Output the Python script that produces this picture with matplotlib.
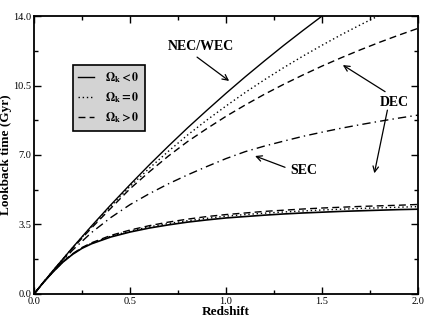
import matplotlib
matplotlib.use("Agg")
import matplotlib.pyplot as plt
from matplotlib.ticker import MultipleLocator

plt.rcParams['font.family'] = ['Liberation Serif', 'DejaVu Serif']
plt.rcParams['mathtext.fontset'] = 'stix'

# redshift grid (upper curves)
z = [0.0, 0.1, 0.2, 0.3, 0.4, 0.5, 0.6, 0.7, 0.8, 0.9, 1.0,
     1.1, 1.2, 1.3, 1.4, 1.5, 1.6, 1.7, 1.8, 1.9, 2.0]

# NEC/WEC upper bounds
nec_neg = [0.0, 1.19, 2.33, 3.43, 4.49, 5.51, 6.50, 7.45, 8.37, 9.25, 10.11,
           10.94, 11.74, 12.52, 13.27, 14.0, 14.7, 15.4, 16.1, 16.8, 17.5]
nec_zero = [0.0, 1.19, 2.32, 3.40, 4.42, 5.42, 6.33, 7.19, 8.01, 8.76, 9.47,
            10.15, 10.79, 11.40, 11.98, 12.53, 13.06, 13.56, 14.04, 14.5, 14.95]
nec_pos = [0.0, 1.18, 2.29, 3.33, 4.32, 5.30, 6.15, 6.95, 7.68, 8.33, 8.95,
           9.52, 10.06, 10.56, 11.03, 11.48, 11.90, 12.30, 12.68, 13.04, 13.38]

# SEC
sec = [0.0, 1.15, 2.20, 3.10, 3.85, 4.50, 5.05, 5.55, 6.00, 6.42, 6.82,
       7.17, 7.45, 7.70, 7.94, 8.15, 8.35, 8.53, 8.70, 8.86, 9.01]

# redshift grid (lower curves)
z_low = [0.0, 0.05, 0.1, 0.15, 0.2, 0.25, 0.3, 0.4, 0.5, 0.6, 0.7, 0.8, 0.9, 1.0,
         1.1, 1.2, 1.3, 1.4, 1.5, 1.6, 1.7, 1.8, 1.9, 2.0]

# DEC lower bounds
dec_neg = [0.0, 0.60, 1.12, 1.60, 1.99, 2.30, 2.53, 2.87, 3.12, 3.32, 3.48, 3.62, 3.73, 3.83,
           3.90, 3.97, 4.03, 4.08, 4.12, 4.16, 4.19, 4.22, 4.25, 4.27]
dec_zero = [0.0, 0.60, 1.12, 1.61, 2.00, 2.32, 2.55, 2.91, 3.17, 3.38, 3.55, 3.69, 3.81, 3.92,
            4.00, 4.07, 4.13, 4.18, 4.23, 4.27, 4.31, 4.34, 4.37, 4.40]
dec_pos = [0.0, 0.60, 1.13, 1.62, 2.02, 2.34, 2.58, 2.95, 3.22, 3.44, 3.62, 3.77, 3.90, 4.00,
           4.08, 4.16, 4.22, 4.28, 4.33, 4.37, 4.41, 4.44, 4.47, 4.51]

fig = plt.figure(figsize=(4.36, 3.27), dpi=100)
ax = fig.add_axes([0.078, 0.101, 0.881, 0.850])

lw = 1.0
ax.plot(z, nec_neg, color='black', lw=lw, ls='-', label=r'$\mathbf{\Omega_k < 0}$')
ax.plot(z, nec_zero, color='black', lw=lw, ls=(0, (1, 2)), label=r'$\mathbf{\Omega_k = 0}$')
ax.plot(z, nec_pos, color='black', lw=lw, ls=(0, (5, 3)), label=r'$\mathbf{\Omega_k > 0}$')
ax.plot(z, sec, color='black', lw=lw, ls=(0, (6, 3, 1, 3)))
ax.plot(z_low, dec_neg, color='black', lw=1.2, ls='-')
ax.plot(z_low, dec_zero, color='black', lw=lw, ls=(0, (1, 2)))
ax.plot(z_low, dec_pos, color='black', lw=lw, ls=(0, (5, 3)))

ax.set_xlim(0, 2)
ax.set_ylim(0, 14)
ax.xaxis.set_major_locator(MultipleLocator(0.5))
ax.xaxis.set_minor_locator(MultipleLocator(0.25))
ax.yaxis.set_major_locator(MultipleLocator(3.5))
ax.yaxis.set_minor_locator(MultipleLocator(1.75))
ax.xaxis.set_major_formatter(lambda v, p: f"{v:.1f}")
ax.yaxis.set_major_formatter(lambda v, p: f"{v:.1f}")
ax.tick_params(which='both', direction='in', top=True, right=True, labelsize=7.5, pad=2)
ax.tick_params(which='major', length=5, width=1)
ax.tick_params(which='minor', length=3, width=1)
for s in ax.spines.values():
    s.set_linewidth(1.3)

ax.set_xlabel('Redshift', fontsize=9.5, fontweight='bold', labelpad=0)
ax.set_ylabel('Lookback time (Gyr)', fontsize=9.5, fontweight='bold', labelpad=1)

arrow = dict(arrowstyle='->', color='black', lw=0.9, shrinkA=0, shrinkB=0)
ax.text(0.87, 12.45, 'NEC/WEC', fontsize=10, fontweight='bold', ha='center', va='center')
ax.annotate('', xy=(1.016, 10.73), xytext=(0.849, 11.93), arrowprops=arrow)
ax.text(1.875, 9.62, 'DEC', fontsize=10, fontweight='bold', ha='center', va='center')
ax.annotate('', xy=(1.608, 11.53), xytext=(1.828, 10.19), arrowprops=arrow)
ax.annotate('', xy=(1.772, 6.08), xytext=(1.84, 9.26), arrowprops=arrow)
ax.text(1.404, 6.24, 'SEC', fontsize=10, fontweight='bold', ha='center', va='center')
ax.annotate('', xy=(1.151, 6.95), xytext=(1.307, 6.38), arrowprops=arrow)

leg = ax.legend(loc='upper left', bbox_to_anchor=(0.1016, 0.824), borderaxespad=0,
                fontsize=8.5, handlelength=1.3, handletextpad=1.0, borderpad=0.45,
                labelspacing=0.45, fancybox=False, framealpha=1, edgecolor='black',
                facecolor='#d3d3d3')
leg.get_frame().set_linewidth(1.2)

fig.savefig('out.png', dpi=100)
